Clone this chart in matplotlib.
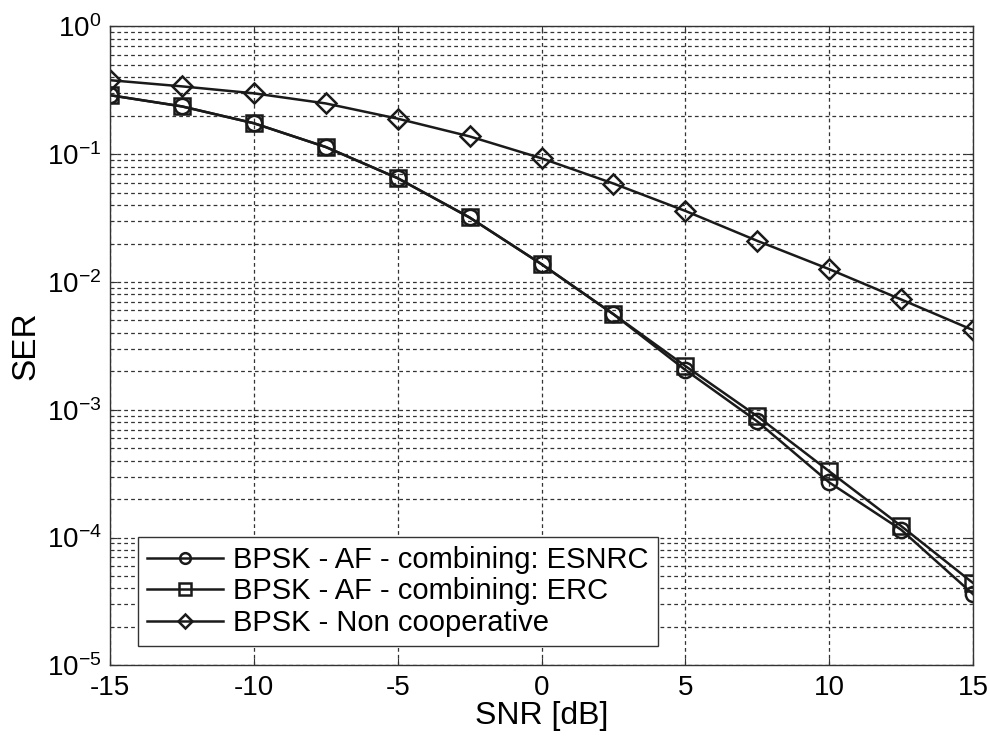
import matplotlib
matplotlib.use("Agg")
import matplotlib.pyplot as plt
from matplotlib.ticker import LogLocator, NullFormatter

plt.rcParams['font.family'] = ['Liberation Sans', 'DejaVu Sans']
plt.rcParams['mathtext.fontset'] = 'custom'
plt.rcParams['mathtext.rm'] = 'Liberation Sans'

snr = [-15, -12.5, -10, -7.5, -5, -2.5, 0, 2.5, 5, 7.5, 10, 12.5, 15]
ser_esnrc = [0.29, 0.237, 0.175, 0.114, 0.065, 0.032, 0.0138, 0.0056, 0.00205, 0.00081, 0.00027, 0.000115, 3.6e-5]
ser_erc = [0.29, 0.237, 0.175, 0.114, 0.065, 0.032, 0.0138, 0.0056, 0.0022, 0.00089, 0.00033, 0.000123, 4.4e-5]
ser_noncoop = [0.38, 0.34, 0.30, 0.25, 0.19, 0.138, 0.093, 0.059, 0.036, 0.021, 0.0126, 0.0073, 0.0042]
labels = ["BPSK - AF - combining: ESNRC", "BPSK - AF - combining: ERC", "BPSK - Non cooperative"]
xticks = [-15, -10, -5, 0, 5, 10, 15]

fig = plt.figure(figsize=(9.9, 7.36), dpi=100)
ax = fig.add_axes([0.111, 0.096, 0.872, 0.868])

kw = dict(color='#1a1a1a', lw=1.8, markerfacecolor='none', markeredgewidth=1.8)
ax.semilogy(snr, ser_esnrc, marker='o', markersize=11, label=labels[0], **kw)
ax.semilogy(snr, ser_erc, marker='s', markersize=12, label=labels[1], **kw)
ax.semilogy(snr, ser_noncoop, marker='D', markersize=10, label=labels[2], **kw)

ax.set_xlim(-15, 15)
ax.set_ylim(1e-5, 1)
ax.set_xticks(xticks)
ax.set_xticklabels([str(t) for t in xticks])
ax.yaxis.set_major_locator(LogLocator(base=10, numticks=10))
ax.yaxis.set_minor_locator(LogLocator(base=10, subs=range(2, 10), numticks=100))
ax.yaxis.set_minor_formatter(NullFormatter())

ax.grid(True, which='major', axis='both', color='#333333', linestyle=(0, (3, 2.5)), linewidth=0.9)
ax.grid(True, which='minor', axis='y', color='#333333', linestyle=(0, (3, 2.5)), linewidth=0.9)
ax.tick_params(axis='both', which='major', labelsize=20, direction='in', length=5, color='#333333', pad=6)
ax.tick_params(axis='x', which='major', pad=7)
ax.tick_params(axis='y', which='minor', direction='in', length=3, color='#333333')
ax.tick_params(top=True, right=True, which='both')
for s in ax.spines.values():
    s.set_color('#333333')
    s.set_linewidth(1.0)

ax.set_xlabel('SNR [dB]', fontsize=23, labelpad=0)
ax.set_ylabel('SER', fontsize=24, labelpad=4)

leg = ax.legend(loc='lower left', bbox_to_anchor=(0.032, 0.030), fontsize=21, frameon=True,
                fancybox=False, edgecolor='#333333', framealpha=1, handlelength=2.6,
                markerscale=0.7, labelspacing=0.12, borderpad=0.32, handletextpad=0.35,
                borderaxespad=0)
leg.get_frame().set_linewidth(1.0)

fig.savefig('out.png', dpi=100)
